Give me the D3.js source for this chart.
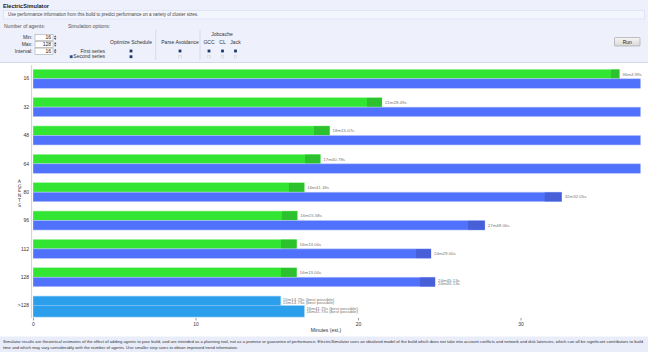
<!DOCTYPE html>
<html>
<head>
<meta charset="utf-8">
<script src="https://cdn.jsdelivr.net/npm/d3@7"></script>
<style>
  body { margin: 0; background: #fff; }
  svg { display: block; font-family: "Liberation Sans", Arial, sans-serif; }
</style>
</head>
<body>
<div id="chart"></div>
<script>
// agents per row, and the two simulated series (minutes)
var agents = ["16", "32", "48", "64", "80", "96", "112", "128"];
var firstLow  = [35.57, 20.55, 17.29, 16.74, 15.75, 15.32, 15.26, 15.26];
var firstHigh = [36.08, 21.47, 18.25, 17.68, 16.69, 16.26, 16.22, 16.22];
var firstLabels = ["36m4.99s", "21m28.49s", "18m15.07s", "17m40.78s", "16m41.18s", "16m15.58s", "16m13.00s", "16m13.00s"];
var secondLow  = [70.0, 41.5, 37.6, 37.5, 31.49, 26.77, 23.57, 23.82];
var secondHigh = [72.1, 42.9, 38.4, 37.9, 32.53, 27.80, 24.49, 24.74];
var secondLabels = [[], [], [], [], ["32m32.05s"], ["27m48.00s"], ["24m29.00s"], ["24m45.13s", "24m45.13s"]];
var bestValues = [15.25, 16.70];
var bestLabels = ["15m14.75s (best possible)", "16m41.75s (best possible)"];
var xTicks = [0, 10, 20, 30];
var maxMinutes = 37.35;

var width = 648, height = 352;

var svg = d3.select("#chart").append("svg")
    .attr("width", width)
    .attr("height", height);

// ---- header panel
var head = svg.append("g");
head.append("rect").attr("x", 0).attr("y", 0).attr("width", width).attr("height", 62)
    .attr("fill", "#eef0fb");
head.append("line").attr("x1", 0).attr("x2", width).attr("y1", 62.5).attr("y2", 62.5)
    .attr("stroke", "#d3d8ec");
head.append("text").attr("x", 3).attr("y", 8).text("ElectricSimulator")
    .attr("font-size", 5.6).attr("font-weight", "bold").attr("fill", "#222");
head.append("rect").attr("x", 3.5).attr("y", 10.5).attr("width", 641).attr("height", 8.5)
    .attr("fill", "#f4f6fe").attr("stroke", "#d6dcf0").attr("stroke-width", 0.6);
head.append("text").attr("x", 8).attr("y", 16.4)
    .text("Use performance information from this build to predict performance on a variety of cluster sizes.")
    .attr("font-size", 4.5).attr("fill", "#444");
head.append("text").attr("x", 4).attr("y", 28).text("Number of agents:")
    .attr("font-size", 5).attr("fill", "#555");
head.append("text").attr("x", 68).attr("y", 28).text("Simulation options:")
    .attr("font-size", 5).attr("fill", "#555");

var inputs = [["Min:", "16"], ["Max:", "128"], ["Interval:", "16"]];
inputs.forEach(function(d, i) {
  var cy = 37.6 + i * 6.8;
  head.append("text").attr("x", 32.5).attr("y", cy + 1.8).attr("text-anchor", "end")
      .text(d[0]).attr("font-size", 5).attr("fill", "#333");
  head.append("rect").attr("x", 35).attr("y", cy - 3.1).attr("width", 18).attr("height", 6.2)
      .attr("fill", "#fff").attr("stroke", "#999").attr("stroke-width", 0.5);
  head.append("text").attr("x", 51).attr("y", cy + 1.8).attr("text-anchor", "end")
      .text(d[1]).attr("font-size", 5).attr("fill", "#222");
  head.append("path").attr("d", "M54," + (cy - 0.4) + "l1.2,-2l1.2,2z M54," + (cy + 0.4) + "l1.2,2l1.2,-2z")
      .attr("fill", "#555");
});

var cols = [
  {name: "Optimize Schedule", x: 131, first: true, second: true},
  {name: "Parse Avoidance", x: 180, first: true, second: false},
  {name: "GCC", x: 209, first: true, second: false},
  {name: "CL", x: 222.5, first: true, second: false},
  {name: "Jack", x: 235.5, first: true, second: false}
];
head.append("text").attr("x", 222).attr("y", 35.5).attr("text-anchor", "middle")
    .text("Jobcache").attr("font-size", 5).attr("fill", "#333");
cols.forEach(function(c) {
  head.append("text").attr("x", c.x).attr("y", 44).attr("text-anchor", "middle")
      .text(c.name).attr("font-size", 5).attr("fill", "#333");
  head.append("rect").attr("x", c.x - 1.4).attr("y", 49.6).attr("width", 2.8).attr("height", 2.8)
      .attr("fill", "#1d3a6b");
  if (c.second) {
    head.append("rect").attr("x", c.x - 1.4).attr("y", 55.3).attr("width", 2.8).attr("height", 2.8)
        .attr("fill", "#1d3a6b");
  } else {
    head.append("rect").attr("x", c.x - 1.2).attr("y", 55.5).attr("width", 2.4).attr("height", 2.4)
        .attr("fill", "#f4f4f4").attr("stroke", "#c4c4c4").attr("stroke-width", 0.4);
  }
});
[155.7, 200].forEach(function(x) {
  head.append("line").attr("x1", x).attr("x2", x).attr("y1", 30).attr("y2", 60)
      .attr("stroke", "#c9cee2").attr("stroke-width", 0.6);
});
head.append("text").attr("x", 105).attr("y", 52.7).attr("text-anchor", "end")
    .text("First series").attr("font-size", 5).attr("fill", "#333");
head.append("text").attr("x", 105).attr("y", 58.4).attr("text-anchor", "end")
    .text("Second series").attr("font-size", 5).attr("fill", "#333");
head.append("rect").attr("x", 69.8).attr("y", 55.3).attr("width", 2.8).attr("height", 2.8)
    .attr("fill", "#2b4a86");

var grad = svg.append("defs").append("linearGradient").attr("id", "btn")
    .attr("x1", 0).attr("x2", 0).attr("y1", 0).attr("y2", 1);
grad.append("stop").attr("offset", 0).attr("stop-color", "#f6f6f6");
grad.append("stop").attr("offset", 1).attr("stop-color", "#d8d8d8");
head.append("rect").attr("x", 614.5).attr("y", 37.5).attr("width", 25.5).attr("height", 8.5)
    .attr("fill", "url(#btn)").attr("stroke", "#9a9a9a").attr("stroke-width", 0.6).attr("rx", 0.8);
head.append("text").attr("x", 627.3).attr("y", 43.5).attr("text-anchor", "middle")
    .text("Run").attr("font-size", 5).attr("fill", "#222");

// ---- chart
var cats = agents.concat([">128"]);
var x = d3.scaleLinear().domain([0, maxMinutes]).range([33, 640]);
var y = d3.scaleBand().domain(cats).range([64.6, 319.75]).paddingInner(0.33).paddingOuter(0.165);
var half = y.bandwidth() / 2;

svg.select("defs").append("clipPath").attr("id", "plot")
  .append("rect").attr("x", 33).attr("y", 60).attr("width", 607.5).attr("height", 270);

var green = "#33e533", greenDark = "#2dc22d", blue = "#4f71fb", blueDark = "#4760d8", best = "#2c9fec";

var bars = svg.append("g").attr("clip-path", "url(#plot)");

function series(low, high, off, c1, c2, edge) {
  var g = bars.append("g");
  g.selectAll("rect.main").data(agents).enter().append("rect")
      .attr("x", x(0))
      .attr("y", function(d) { return y(d) + off; })
      .attr("width", function(d, i) { return Math.min(x(high[i]), 641) - x(0); })
      .attr("height", half)
      .attr("fill", c1).attr("stroke", edge).attr("stroke-width", 0.6);
  g.selectAll("rect.dark").data(agents).enter().append("rect")
      .attr("x", function(d, i) { return x(low[i]); })
      .attr("y", function(d) { return y(d) + off + 0.3; })
      .attr("width", function(d, i) { return Math.max(0, Math.min(x(high[i]), 641) - x(low[i])); })
      .attr("height", half - 0.6)
      .attr("fill", c2);
}
series(firstLow, firstHigh, 0, green, greenDark, "#a6f0a6");
series(secondLow, secondHigh, half, blue, blueDark, "#b5c3fb");

// best possible bars for >128
var yb = y(">128");
bars.append("rect").attr("x", x(0)).attr("y", yb).attr("width", x(bestValues[0]) - x(0)).attr("height", 11)
    .attr("fill", best).attr("stroke", "#9fd3f6").attr("stroke-width", 0.6);
bars.append("rect").attr("x", x(0)).attr("y", yb + 9.5).attr("width", x(bestValues[1]) - x(0)).attr("height", 11.5)
    .attr("fill", best).attr("stroke", "#9fd3f6").attr("stroke-width", 0.6);

// value labels
var lab = svg.append("g").attr("font-size", 4.4).attr("fill", "#777");
agents.forEach(function(a, i) {
  lab.append("text").attr("x", x(firstHigh[i]) + 3).attr("y", y(a) + half / 2 + 1.5).text(firstLabels[i]);
  var lines = secondLabels[i];
  lines.forEach(function(t, k) {
    var yy = y(a) + half * 1.5 + 1.5 + (k - (lines.length - 1) / 2) * 3.6;
    lab.append("text").attr("x", x(secondHigh[i]) + 3).attr("y", yy).text(t);
  });
});
bestLabels.forEach(function(t, i) {
  var bx = x(bestValues[i]) + 2;
  var by = yb + (i === 0 ? 4.6 : 13.6);
  lab.append("text").attr("x", bx).attr("y", by).text(t);
  lab.append("text").attr("x", bx).attr("y", by + 3.6).text(t);
});

// axes
svg.append("line").attr("x1", 31.5).attr("x2", 31.5).attr("y1", 65).attr("y2", 318)
    .attr("stroke", "#d6d6d6").attr("stroke-width", 1.2);
svg.append("g").selectAll("text").data(cats).enter().append("text")
    .attr("x", 29).attr("y", function(d) { return y(d) + half + 1.7; })
    .attr("text-anchor", "end").attr("font-size", 5).attr("fill", "#333")
    .text(function(d) { return d; });

var xAxis = svg.append("g").attr("transform", "translate(0,318)")
    .call(d3.axisBottom(x).tickValues(xTicks).tickSize(2.5).tickPadding(1.5).tickFormat(d3.format("d")));
xAxis.select(".domain").remove();
xAxis.selectAll("line").attr("stroke", "#999");
xAxis.selectAll("text").attr("font-size", 5).attr("fill", "#333").attr("font-family", "Liberation Sans, Arial, sans-serif");
svg.append("text").attr("x", 326).attr("y", 332).attr("text-anchor", "middle")
    .text("Minutes (est.)").attr("font-size", 5).attr("fill", "#333");

var word = "AGENTS".split("");
svg.append("g").selectAll("text").data(word).enter().append("text")
    .attr("x", 19.5).attr("y", function(d, i) { return 183 + i * 4.7; })
    .attr("text-anchor", "middle").attr("font-size", 4.8).attr("fill", "#333")
    .attr("font-family", "DejaVu Sans, sans-serif")
    .text(function(d) { return d; });

// ---- footer
svg.append("rect").attr("x", 0).attr("y", 336.5).attr("width", width).attr("height", 15.5)
    .attr("fill", "#e9edfa");
svg.append("text").attr("x", 3).attr("y", 343.2)
    .attr("font-size", 3.9).attr("fill", "#333")
    .attr("textLength", 640).attr("lengthAdjust", "spacingAndGlyphs")
    .text("Simulator results are theoretical estimates of the effect of adding agents to your build, and are intended as a planning tool, not as a promise or guarantee of performance.  ElectricSimulator uses an idealized model of the build which does not take into account conflicts and network and disk latencies, which can all be significant contributors to build");
svg.append("text").attr("x", 3).attr("y", 349.2)
    .attr("font-size", 3.9).attr("fill", "#333")
    .attr("textLength", 235).attr("lengthAdjust", "spacingAndGlyphs")
    .text("time and which may vary considerably with the number of agents.  Use smaller step sizes to obtain improved trend information.");
</script>
</body>
</html>
